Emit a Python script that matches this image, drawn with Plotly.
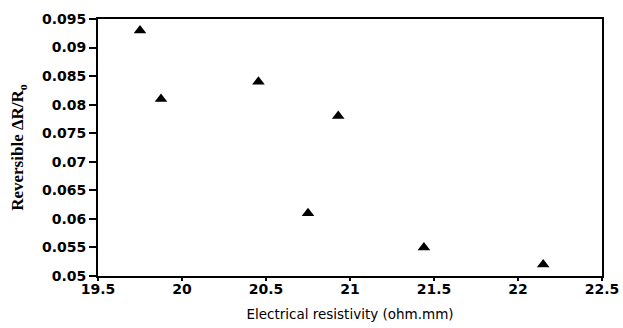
import plotly.graph_objects as go

# Electrical resistivity (ohm.mm) vs reversible resistance change
resistivity = [19.75, 19.875, 20.455, 20.93, 20.75, 21.44, 22.15]
reversible_dr = [0.093, 0.081, 0.084, 0.078, 0.061, 0.055, 0.052]

x_ticks = [19.5, 20, 20.5, 21, 21.5, 22, 22.5]
y_ticks = [0.05, 0.055, 0.06, 0.065, 0.07, 0.075, 0.08, 0.085, 0.09, 0.095]

fig = go.Figure(
    go.Scatter(
        x=resistivity,
        y=reversible_dr,
        mode="markers",
        marker=dict(symbol="triangle-up", size=11, color="black"),
        showlegend=False,
    )
)

tick_font = dict(family="DejaVu Sans, sans-serif", size=14, color="black")

fig.update_xaxes(
    range=[19.5, 22.5],
    tickvals=x_ticks,
    ticktext=[f"<b>{v:g}</b>" for v in x_ticks],
    ticks="outside",
    ticklen=3,
    tickwidth=1.5,
    tickcolor="black",
    ticklabelstandoff=-4,
    showline=True,
    linecolor="black",
    linewidth=2,
    mirror=True,
    showgrid=False,
    zeroline=False,
    automargin=False,
    tickfont=tick_font,
    title=dict(
        text="Electrical resistivity (ohm.mm)",
        font=dict(family="DejaVu Sans, sans-serif", size=13.5, color="black"),
        standoff=14,
    ),
)
fig.update_yaxes(
    range=[0.05, 0.095],
    tickvals=y_ticks,
    ticktext=[f"<b>{v:g}</b>" for v in y_ticks],
    ticks="outside",
    ticklen=7,
    tickwidth=1.5,
    tickcolor="black",
    showline=True,
    linecolor="black",
    linewidth=2,
    mirror=True,
    showgrid=False,
    zeroline=False,
    automargin=False,
    tickfont=tick_font,
    title=dict(
        text="<b>Reversible ΔR/R<sub>o</sub></b>",
        font=dict(family="Liberation Serif, Times New Roman, serif", size=17, color="black"),
        standoff=14,
    ),
)

fig.update_layout(
    width=623,
    height=328,
    margin=dict(l=98, r=21, t=19, b=52),
    plot_bgcolor="white",
    paper_bgcolor="white",
)

fig.write_html("out.html")
